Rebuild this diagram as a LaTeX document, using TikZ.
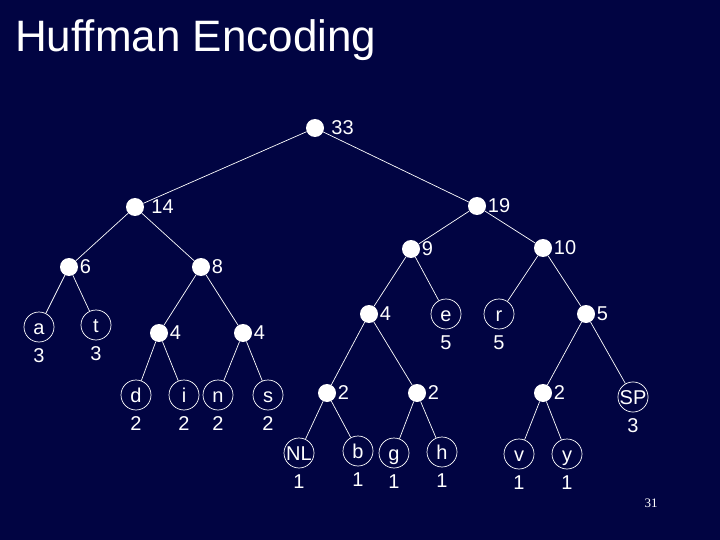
\documentclass[tikz,border=0pt]{standalone}
\usepackage{fontspec}
\setmainfont{Liberation Sans}
\newfontfamily\slidenumfont{Liberation Serif}
\definecolor{slidenavy}{RGB}{1,4,66}
\newcommand{\treefont}{\fontsize{20}{24}\selectfont}
\tikzset{
  sum label/.style={text=white, font=\treefont, inner sep=0pt, label distance=1.5pt},
  sum node/.style={
    circle, fill=white, minimum size=18pt, inner sep=0pt,
    label={[sum label]east:#1}
  },
  far sum node/.style={
    circle, fill=white, minimum size=18pt, inner sep=0pt,
    label={[sum label, label distance=7pt]east:#1}
  },
  leaf count/.style={text=white, font=\treefont, inner sep=0pt, label distance=6pt},
  leaf node/.style={
    circle, draw=white, line width=0.7pt, minimum size=30pt, inner sep=0pt,
    text=white, font=\treefont, text height=14pt, text depth=0pt,
    label={[leaf count]below:#1}
  },
  tree edge/.style={white, line width=0.7pt}
}
\begin{document}
\begin{tikzpicture}[x=1pt, y=-1pt]
    \fill[slidenavy] (0,0) rectangle (720,540);
    \useasboundingbox (0,0) rectangle (720,540);
    \node[anchor=base west, inner sep=0pt, text=white, font=\fontsize{44}{50}\selectfont] (title) at (15,52) {Huffman Encoding};
    \node[far sum node=33] (n33) at (315,128) {};
    \node[far sum node=14] (n14) at (135,207) {};
    \node[sum node=19] (n19) at (477,206) {};
    \node[sum node=6] (n6) at (69,267) {};
    \node[sum node=8] (n8) at (201,267) {};
    \node[sum node=9] (n9) at (411,249) {};
    \node[sum node=10] (n10) at (543,248) {};
    \node[sum node=4] (n4a) at (159,333) {};
    \node[sum node=4] (n4b) at (243,333) {};
    \node[sum node=4] (n4c) at (369,314) {};
    \node[sum node=5] (n5) at (586,314) {};
    \node[sum node=2] (n2a) at (327,393) {};
    \node[sum node=2] (n2b) at (417,393) {};
    \node[sum node=2] (n2c) at (543,393) {};
    \node[leaf node=3] (a) at (39,327) {a};
    \node[leaf node=3] (t) at (96,325) {t};
    \node[leaf node=2] (d) at (136,395) {d};
    \node[leaf node=2] (i) at (184,395) {i};
    \node[leaf node=2] (n) at (218,395) {n};
    \node[leaf node=2] (s) at (268,395) {s};
    \node[leaf node=5] (e) at (446,314) {e};
    \node[leaf node=5] (r) at (499,314) {r};
    \node[leaf node=3] (sp) at (633,397) {SP};
    \node[leaf node=1] (nl) at (299,453) {NL};
    \node[leaf node=1] (b) at (358,451) {b};
    \node[leaf node=1] (g) at (394,453) {g};
    \node[leaf node=1] (h) at (442,452) {h};
    \node[leaf node=1] (v) at (519,454) {v};
    \node[leaf node=1] (y) at (567,454) {y};
    \foreach \up/\down in {n33/n14, n33/n19, n14/n6, n14/n8, n6/a, n6/t, n8/n4a, n8/n4b,
      n4a/d, n4a/i, n4b/n, n4b/s, n19/n9, n19/n10, n9/n4c, n9/e, n4c/n2a, n4c/n2b,
      n2a/nl, n2a/b, n2b/g, n2b/h, n10/r, n10/n5, n5/n2c, n5/sp, n2c/v, n2c/y}
      \draw[tree edge] (\up) -- (\down);
    \node[text=white, font=\slidenumfont\fontsize{13}{15}\selectfont] (page) at (651,503) {31};
  \end{tikzpicture}
\end{document}
